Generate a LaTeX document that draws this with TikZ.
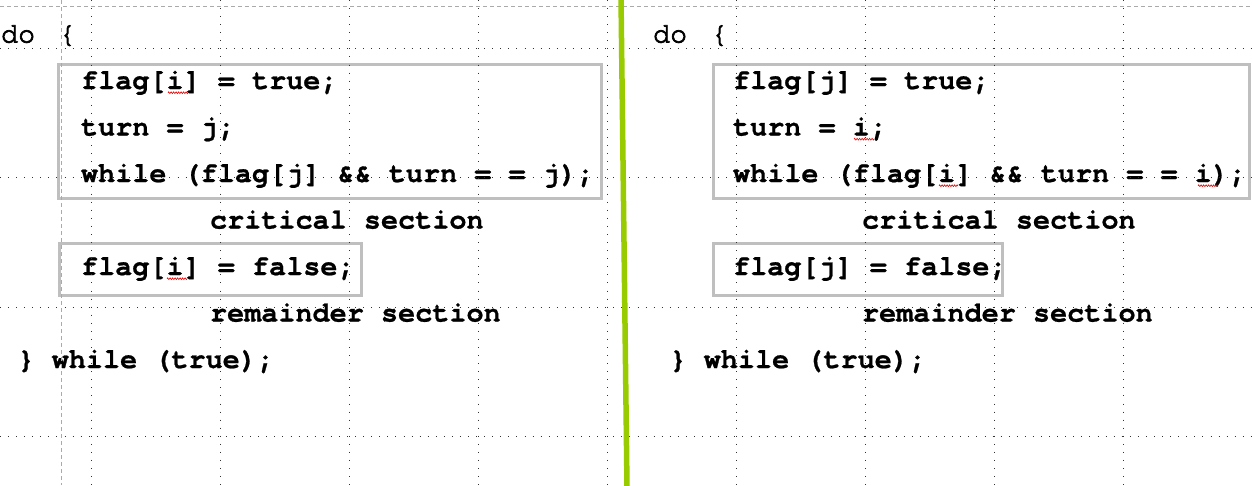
\documentclass[tikz,border=0pt]{standalone}
\usepackage{fontspec}
\newfontfamily\codefam{texgyrecursor}[Extension=.otf, UprightFont=*-regular, BoldFont=*-bold, Ligatures={NoCommon,NoRequired,NoContextual}, BoldFeatures={FakeBold=0.8}]
\newfontfamily\plainfam{texgyrecursor}[Extension=.otf, UprightFont=*-regular, BoldFont=*-bold, Ligatures={NoCommon,NoRequired,NoContextual}, UprightFeatures={RawFeature={embolden=2.5}}]
\usetikzlibrary{decorations.pathmorphing}
\definecolor{boxgray}{RGB}{191,191,191}
\definecolor{barGreen}{RGB}{153,204,0}
\definecolor{guidegray}{RGB}{170,170,170}
\begin{document}
\begin{tikzpicture}[x=1pt,y=-1pt,
  code/.style={anchor=base west, inner sep=0pt, outer sep=0pt, font={\codefam\bfseries\fontsize{28.5pt}{30pt}\selectfont}},
  plain/.style={anchor=base west, inner sep=0pt, outer sep=0pt, font={\plainfam\fontsize{28.5pt}{30pt}\selectfont}},
  box/.style={draw=boxgray, line width=3pt},
  griddots/.style={draw=black!80, line width=1pt, dash pattern=on 1pt off 7.07pt},
  guide/.style={draw=guidegray, line width=1pt, dash pattern=on 4pt off 3pt},
  squig/.style={draw=red!90!black, line width=0.6pt, decorate, decoration={zigzag, segment length=2.5pt, amplitude=0.9pt}}]
\fill[white] (0,0) rectangle (1252,485);
\useasboundingbox (0,0) rectangle (1252,485);

% boxes
\draw[box] (58,64.5) rectangle (601,198);
\draw[box] (59,243) rectangle (361,295);
\draw[box] (713,64.5) rectangle (1249.5,198.5);
\draw[box] (713,243) rectangle (1002.5,295);

% left code
\node[plain] (ldo) at (1,42.5) {do};
\node[plain] (lbr) at (59,42.5) {\{};
\node[code] (l1) at (81,89) {flag[i] = true;};
\node[code] (l2) at (81,135.5) {turn = j;};
\node[code] (l3) at (81,182) {while (flag[j] \&\& turn = = j);};
\node[code] (l4) at (210,228.5) {critical section};
\node[code] (l5) at (81,275) {flag[i] = false;};
\node[code] (l6) at (210,321.5) {remainder section};
\node[code] (l7) at (17.5,368) {\} while (true);};

% right code
\node[plain] (rdo) at (653,42.5) {do};
\node[plain] (rbr) at (711,42.5) {\{};
\node[code] (r1) at (733,89) {flag[j] = true;};
\node[code] (r2) at (733,135.5) {turn = i;};
\node[code] (r3) at (733,182) {while (flag[i] \&\& turn = = i);};
\node[code] (r4) at (862,228.5) {critical section};
\node[code] (r5) at (733,275) {flag[j] = false;};
\node[code] (r6) at (862,321.5) {remainder section};
\node[code] (r7) at (669.5,368) {\} while (true);};

% spell-check squiggles
\draw[squig] (168,92.7) -- (188,92.7);
\draw[squig] (167,278.7) -- (187,278.7);
\draw[squig] (854,139.2) -- (874,139.2);
\draw[squig] (939,185.7) -- (958,185.7);
\draw[squig] (1198,185.7) -- (1218,185.7);

% grid
\foreach \k in {0,...,8} \draw[griddots] (91+129.06*\k,0) -- ++(0,485);
\foreach \k in {0,...,3} \draw[griddots] (0,48.5+129.3*\k) -- ++(1252,0);

% guides
\draw[guide] (0,6) -- (1252,6);
\draw[guide] (61,0) -- (61,485);

% green divider
\draw[draw=barGreen, line width=5.5pt] (621,-2) -- (627,487);
\end{tikzpicture}
\end{document}
